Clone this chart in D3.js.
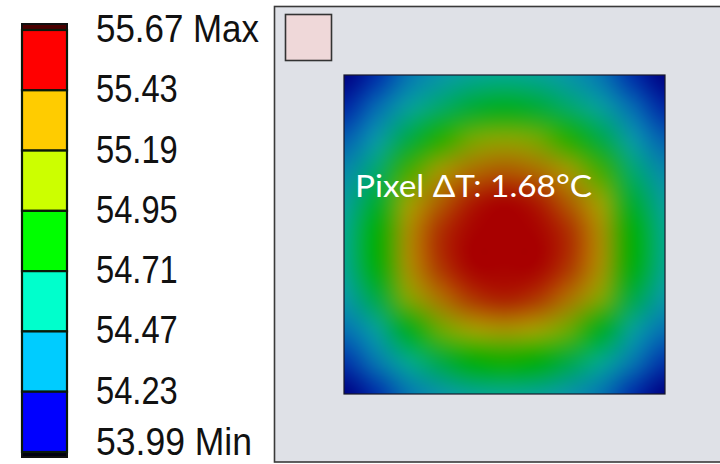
<!DOCTYPE html>
<html>
<head>
<meta charset="utf-8">
<script src="https://cdn.jsdelivr.net/npm/d3@7"></script>
<style>
  html, body { margin: 0; padding: 0; background: #ffffff; }
  svg { display: block; }
</style>
</head>
<body>
<svg id="chart" width="720" height="464"></svg>
<script>
// ---------------- data ----------------
const tickValues = [55.67, 55.43, 55.19, 54.95, 54.71, 54.47, 54.23, 53.99];
const tickLabels = ["55.67 Max", "55.43", "55.19", "54.95", "54.71", "54.47", "54.23", "53.99 Min"];
// legend band colours, top to bottom
const bandColors = ["#ff0000", "#ffcc00", "#ccff00", "#00ff00", "#00ffcc", "#00ccff", "#0000ff"];

// temperature field (°C) sampled on an 11 x 11 grid across the pixel (rows top to bottom)
const tempRow0  = [53.99, 54.11, 54.27, 54.39, 54.47, 54.50, 54.47, 54.39, 54.27, 54.11, 53.99];
const tempRow1  = [54.09, 54.24, 54.44, 54.58, 54.68, 54.72, 54.68, 54.58, 54.44, 54.24, 54.09];
const tempRow2  = [54.21, 54.40, 54.65, 54.83, 54.95, 55.00, 54.95, 54.83, 54.65, 54.40, 54.21];
const tempRow3  = [54.34, 54.57, 54.87, 55.09, 55.24, 55.30, 55.24, 55.09, 54.87, 54.57, 54.34];
const tempRow4  = [54.44, 54.69, 55.04, 55.29, 55.46, 55.52, 55.46, 55.29, 55.04, 54.69, 54.44];
const tempRow5  = [54.50, 54.77, 55.14, 55.41, 55.59, 55.66, 55.59, 55.41, 55.14, 54.77, 54.50];
const tempRow6  = [54.49, 54.76, 55.13, 55.39, 55.57, 55.64, 55.57, 55.39, 55.13, 54.76, 54.49];
const tempRow7  = [54.40, 54.65, 54.98, 55.23, 55.39, 55.45, 55.39, 55.23, 54.98, 54.65, 54.40];
const tempRow8  = [54.25, 54.45, 54.72, 54.92, 55.05, 55.10, 55.05, 54.92, 54.72, 54.45, 54.25];
const tempRow9  = [54.12, 54.28, 54.50, 54.65, 54.76, 54.80, 54.76, 54.65, 54.50, 54.28, 54.12];
const tempRow10 = [53.99, 54.11, 54.27, 54.39, 54.47, 54.50, 54.47, 54.39, 54.27, 54.11, 53.99];
const tempGrid = [tempRow0, tempRow1, tempRow2, tempRow3, tempRow4, tempRow5,
                  tempRow6, tempRow7, tempRow8, tempRow9, tempRow10];

// shaded rendering colours of the field
const heatStops  = [53.99, 54.10, 54.25, 54.40, 54.50, 54.62, 54.78, 54.92, 55.05, 55.18, 55.30, 55.42, 55.52, 55.67];
const heatColors = ["#000080", "#0028a8", "#0570b5", "#0898a8", "#02a890", "#00aa5a", "#00b000",
                    "#6aac00", "#a0a200", "#ae8400", "#b05a00", "#ae2800", "#a80000", "#a80000"];

const annotation = "Pixel \u0394T: 1.68\u00B0C";

// ---------------- drawing ----------------
const svg = d3.select("#chart");

// colour bar legend
const legendY = d3.scaleLinear().domain([53.99, 55.67]).range([452, 30]);
const barX = 22, barW = 45;
const legend = svg.append("g");

legend.append("rect")
  .attr("x", barX).attr("y", legendY(55.67) - 6)
  .attr("width", barW).attr("height", 6)
  .attr("fill", "#4a0000").attr("stroke", "#111").attr("stroke-width", 2);
legend.append("rect")
  .attr("x", barX).attr("y", legendY(53.99))
  .attr("width", barW).attr("height", 5)
  .attr("fill", "#00000f").attr("stroke", "#111").attr("stroke-width", 2);

legend.selectAll("rect.band")
  .data(bandColors)
  .join("rect")
  .attr("class", "band")
  .attr("x", barX)
  .attr("y", (d, i) => legendY(tickValues[i]))
  .attr("width", barW)
  .attr("height", (d, i) => legendY(tickValues[i + 1]) - legendY(tickValues[i]))
  .attr("fill", d => d)
  .attr("stroke", "#0a1a0a")
  .attr("stroke-width", 2.2);

const labels = legend.selectAll("text.tick")
  .data(tickValues)
  .join("text")
  .attr("class", "tick")
  .attr("x", 96)
  .attr("y", (d, i) => Math.min(legendY(d) + 12, 455))
  .attr("font-family", "'Liberation Sans', sans-serif")
  .attr("font-size", 38)
  .attr("fill", "#111")
  .text((d, i) => tickLabels[i]);
// condensed look of the original labels
labels.each(function (d, i) {
  const w = this.getComputedTextLength();
  const target = i === 0 ? 163 : (i === tickValues.length - 1 ? 156 : w * 0.86);
  d3.select(this).attr("textLength", Math.min(target, w)).attr("lengthAdjust", "spacingAndGlyphs");
});

// panel
svg.append("rect")
  .attr("x", 274.5).attr("y", 6.5)
  .attr("width", 470).attr("height", 455.5)
  .attr("fill", "#dfe1e7")
  .attr("stroke", "#3a3a3a").attr("stroke-width", 1.6);

svg.append("rect")
  .attr("x", 285.5).attr("y", 14.5)
  .attr("width", 46).attr("height", 46)
  .attr("fill", "#efd8d9")
  .attr("stroke", "#333").attr("stroke-width", 1.6);

// heat map
const hx = d3.scaleLinear().domain([0, 10]).range([344, 665]);
const hy = d3.scaleLinear().domain([0, 10]).range([75, 394]);
const heatColor = d3.scaleLinear().domain(heatStops).range(heatColors).interpolate(d3.interpolateRgb).clamp(true);

const nR = tempGrid.length, nC = tempGrid[0].length;
const small = document.createElement("canvas");
small.width = nC; small.height = nR;
const sctx = small.getContext("2d");
const img = sctx.createImageData(nC, nR);
tempGrid.forEach((row, r) => row.forEach((v, c) => {
  const col = d3.rgb(heatColor(v));
  const k = (r * nC + c) * 4;
  img.data[k] = col.r; img.data[k + 1] = col.g; img.data[k + 2] = col.b; img.data[k + 3] = 255;
}));
sctx.putImageData(img, 0, 0);

const W = Math.round(hx(10) - hx(0)), H = Math.round(hy(10) - hy(0));
const big = document.createElement("canvas");
big.width = W; big.height = H;
const bctx = big.getContext("2d");
bctx.imageSmoothingEnabled = true;
bctx.imageSmoothingQuality = "high";
bctx.drawImage(small,
  hx(-0.5) - hx(0), hy(-0.5) - hy(0),
  hx(nC - 0.5) - hx(-0.5), hy(nR - 0.5) - hy(-0.5));

svg.append("image")
  .attr("x", hx(0)).attr("y", hy(0))
  .attr("width", W).attr("height", H)
  .attr("preserveAspectRatio", "none")
  .attr("href", big.toDataURL());

svg.append("rect")
  .attr("x", hx(0)).attr("y", hy(0))
  .attr("width", W).attr("height", H)
  .attr("fill", "none")
  .attr("stroke", "#1a1a2a").attr("stroke-width", 1.2);

svg.append("text")
  .attr("x", 355).attr("y", 197)
  .attr("font-family", "Lato, 'Open Sans', sans-serif")
  .attr("font-size", 31)
  .attr("fill", "#ffffff")
  .attr("textLength", 237)
  .attr("lengthAdjust", "spacingAndGlyphs")
  .text(annotation);
</script>
</body>
</html>
